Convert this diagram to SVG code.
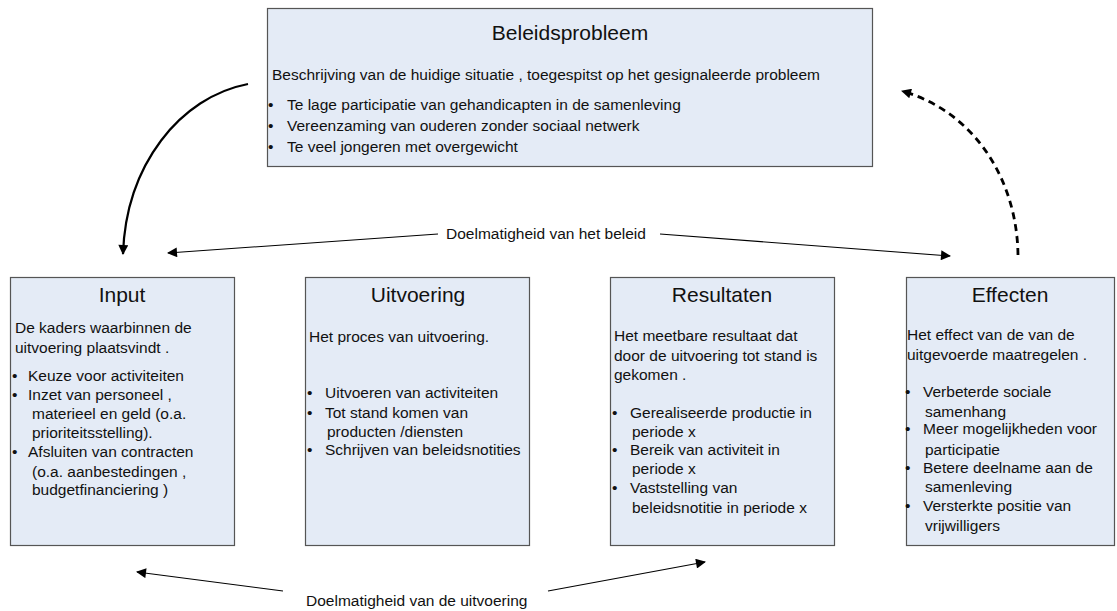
<svg xmlns="http://www.w3.org/2000/svg" width="1117" height="611" viewBox="0 0 1117 611">
<style>
  .box { fill: #e4ebf6; stroke: #555; stroke-width: 1.2; }
  text { font-family: "Liberation Sans", Arial, sans-serif; fill: #111; }
  .title { font-size: 21px; text-anchor: middle; }
  .body { font-size: 15.5px; }
  .lbl { font-size: 15.5px; }
  .thin { fill: none; stroke: #000; stroke-width: 1.1; }
  .thick { fill: none; stroke: #000; stroke-width: 2.2; }
  .dash { fill: none; stroke: #000; stroke-width: 2.8; stroke-dasharray: 7 5; }
</style>
<defs>
  <marker id="ah" viewBox="0 0 10 10" refX="9" refY="5" markerWidth="14" markerHeight="10" markerUnits="userSpaceOnUse" orient="auto">
    <path d="M0,0 L10,5 L0,10 z" fill="#000"/>
  </marker>
</defs>

<g id="beleidsprobleem">
  <rect class="box" x="267.5" y="8.5" width="605" height="158"/>
  <text class="title" x="570" y="40">Beleidsprobleem</text>
  <text class="body" x="272" y="80">Beschrijving van de huidige situatie , toegespitst op het gesignaleerde probleem</text>
  <text class="body" x="268" y="110">•</text><text class="body" x="287" y="110">Te lage participatie van gehandicapten in de samenleving</text>
  <text class="body" x="268" y="131">•</text><text class="body" x="287" y="131">Vereenzaming van ouderen zonder sociaal netwerk</text>
  <text class="body" x="268" y="152">•</text><text class="body" x="287" y="152">Te veel jongeren met overgewicht</text>
</g>

<g id="input">
  <rect class="box" x="10.5" y="277.5" width="224" height="268"/>
  <text class="title" x="122" y="302">Input</text>
  <text class="body" x="15" y="333">De kaders waarbinnen de</text>
  <text class="body" x="15" y="353">uitvoering plaatsvindt .</text>
  <text class="body" x="12" y="381">•</text><text class="body" x="28" y="381">Keuze voor activiteiten</text>
  <text class="body" x="12" y="400">•</text><text class="body" x="28" y="400">Inzet van personeel ,</text>
  <text class="body" x="32" y="419">materieel en geld  (o.a.</text>
  <text class="body" x="32" y="438">prioriteitsstelling).</text>
  <text class="body" x="12" y="457">•</text><text class="body" x="28" y="457">Afsluiten van contracten</text>
  <text class="body" x="32" y="477">(o.a. aanbestedingen ,</text>
  <text class="body" x="32" y="495">budgetfinanciering )</text>
</g>

<g id="uitvoering">
  <rect class="box" x="305.5" y="277.5" width="224" height="268"/>
  <text class="title" x="418" y="302">Uitvoering</text>
  <text class="body" x="309" y="342">Het proces van uitvoering.</text>
  <text class="body" x="307" y="398">•</text><text class="body" x="325" y="398">Uitvoeren van activiteiten</text>
  <text class="body" x="307" y="418">•</text><text class="body" x="325" y="418">Tot stand komen van</text>
  <text class="body" x="327" y="437">producten /diensten</text>
  <text class="body" x="307" y="455">•</text><text class="body" x="325" y="455">Schrijven van beleidsnotities</text>
</g>

<g id="resultaten">
  <rect class="box" x="610.5" y="277.5" width="224" height="268"/>
  <text class="title" x="722" y="302">Resultaten</text>
  <text class="body" x="614" y="341">Het meetbare resultaat dat</text>
  <text class="body" x="614" y="361">door de uitvoering tot stand is</text>
  <text class="body" x="614" y="380">gekomen .</text>
  <text class="body" x="612" y="418">•</text><text class="body" x="630" y="418">Gerealiseerde productie in</text>
  <text class="body" x="632" y="437">periode x</text>
  <text class="body" x="612" y="455">•</text><text class="body" x="630" y="455">Bereik van activiteit in</text>
  <text class="body" x="632" y="474">periode x</text>
  <text class="body" x="612" y="493">•</text><text class="body" x="630" y="493">Vaststelling van</text>
  <text class="body" x="632" y="513">beleidsnotitie in periode x</text>
</g>

<g id="effecten">
  <rect class="box" x="906.5" y="277.5" width="208" height="268"/>
  <text class="title" x="1010" y="302">Effecten</text>
  <text class="body" x="907" y="340">Het effect van de van de</text>
  <text class="body" x="907" y="360">uitgevoerde maatregelen .</text>
  <text class="body" x="905" y="397">•</text><text class="body" x="923" y="397">Verbeterde sociale</text>
  <text class="body" x="925" y="417">samenhang</text>
  <text class="body" x="905" y="434">•</text><text class="body" x="923" y="434">Meer mogelijkheden voor</text>
  <text class="body" x="925" y="455">participatie</text>
  <text class="body" x="905" y="473">•</text><text class="body" x="923" y="473">Betere deelname aan de</text>
  <text class="body" x="925" y="492">samenleving</text>
  <text class="body" x="905" y="511">•</text><text class="body" x="923" y="511">Versterkte positie van</text>
  <text class="body" x="925" y="531">vrijwilligers</text>
</g>

<g id="connectors">
  <path class="thick" d="M248,84 C180,97 126,165 123,254" marker-end="url(#ah)"/>
  <path class="dash" d="M1018,255 C1017,180 975,112 902,91" marker-end="url(#ah)"/>
  <path class="thin" d="M438,234 L168,253" marker-end="url(#ah)"/>
  <path class="thin" d="M660,234 L950,256" marker-end="url(#ah)"/>
  <path class="thin" d="M283,591 L137,572" marker-end="url(#ah)"/>
  <path class="thin" d="M548,591 L705,562" marker-end="url(#ah)"/>
  <text class="lbl" x="446" y="239">Doelmatigheid van het beleid</text>
  <text class="lbl" x="306" y="606">Doelmatigheid van de uitvoering</text>
</g>
</svg>
